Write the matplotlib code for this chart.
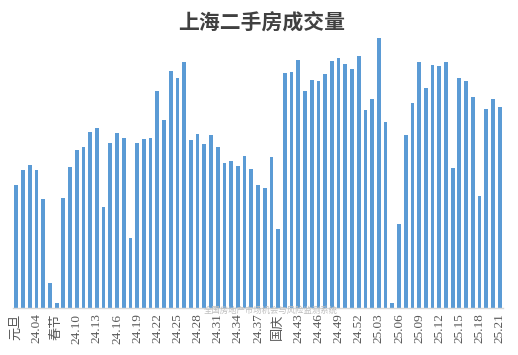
import matplotlib
matplotlib.use("Agg")
from matplotlib import pyplot as plt

# weekly labels (only every third one is shown on the axis)
weeks = ["元旦", "24.02", "24.03", "24.04", "24.05", "24.06", "春节", "24.08", "24.09", "24.10",
         "24.11", "24.12", "24.13", "24.14", "24.15", "24.16", "24.17", "24.18", "24.19", "24.20",
         "24.21", "24.22", "24.23", "24.24", "24.25", "24.26", "24.27", "24.28", "24.29", "24.30",
         "24.31", "24.32", "24.33", "24.34", "24.35", "24.36", "24.37", "24.38", "24.39", "国庆",
         "24.41", "24.42", "24.43", "24.44", "24.45", "24.46", "24.47", "24.48", "24.49", "24.50",
         "24.51", "24.52", "25.01", "25.02", "25.03", "25.04", "25.05", "25.06", "25.07", "25.08",
         "25.09", "25.10", "25.11", "25.12", "25.13", "25.14", "25.15", "25.16", "25.17", "25.18",
         "25.19", "25.20", "25.21"]

volume = [3075, 3450, 3575, 3450, 2725, 625, 125, 2750, 3525, 3950,
          4025, 4400, 4500, 2525, 4125, 4375, 4250, 1750, 4125, 4225,
          4250, 5425, 4700, 5925, 5750, 6150, 4200, 4350, 4100, 4325,
          4025, 3625, 3675, 3550, 3800, 3475, 3075, 3000, 3775, 1975,
          5875, 5900, 6200, 5425, 5700, 5675, 5850, 6175, 6250, 6100,
          5975, 6300, 4950, 5225, 6750, 4650, 125, 2100, 4325, 5125,
          6150, 5500, 6075, 6050, 6150, 3500, 5750, 5675, 5275, 2800,
          4975, 5225, 5025]

title = "上海二手房成交量"
watermark = "全国房地产市场机会与风险监测系统"

fig = plt.figure(figsize=(5.18, 3.55), dpi=100)
ax = fig.add_axes([13 / 518, 47 / 355, 490 / 518, 280 / 355])

x = range(len(volume))
ax.bar(x, volume, width=0.56, color="#5B9BD5")
ax.set_xlim(-0.5, len(volume) - 0.5)
ax.set_ylim(0, 7000)

for s in ["top", "left", "right"]:
    ax.spines[s].set_visible(False)
ax.spines["bottom"].set_color("#D9D9D9")
ax.spines["bottom"].set_linewidth(1.0)
ax.set_yticks([])

ticks = list(range(0, len(weeks), 3))
ax.set_xticks(ticks)
ax.set_xticklabels([weeks[i] for i in ticks], rotation=90, fontsize=9.5,
                   color="#595959", family=["Liberation Serif", "Noto Sans CJK SC"])
ax.tick_params(axis="x", length=0, pad=4)

fig.text(0.506, 0.935, title, ha="center", va="center", fontsize=15, fontweight="bold",
         color="#404040", family=["Noto Sans CJK SC", "DejaVu Sans"])
# watermark sits over the tick labels, as in the source image
fig.text(0.522, 0.126, watermark, ha="center", va="center", fontsize=6,
         color="#BFBFBF", family=["Noto Sans CJK SC", "DejaVu Sans"])

fig.savefig("out.png", dpi=100)
